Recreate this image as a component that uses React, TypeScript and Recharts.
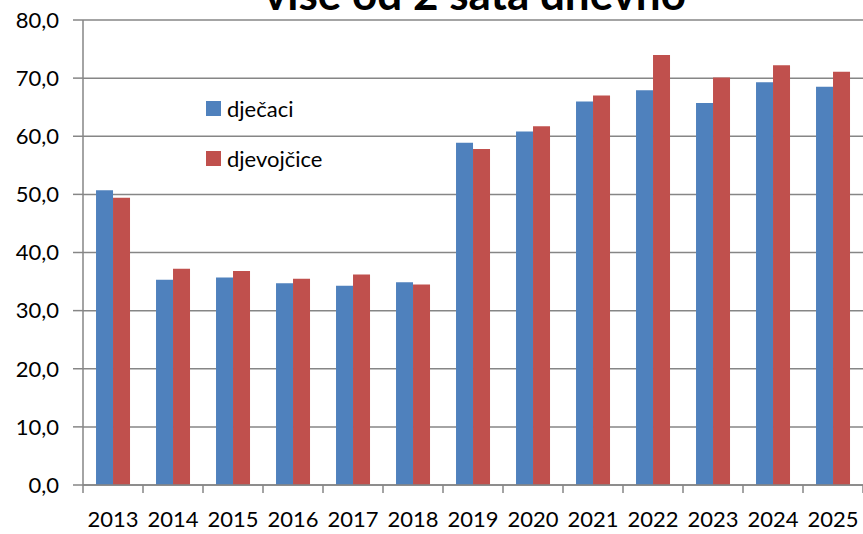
import { BarChart, Bar, XAxis, YAxis, CartesianGrid, Legend } from 'recharts';

const years = ['2013', '2014', '2015', '2016', '2017', '2018', '2019', '2020', '2021', '2022', '2023', '2024', '2025'];
const boys = [50.7, 35.3, 35.7, 34.7, 34.3, 34.9, 58.9, 60.8, 66.0, 67.9, 65.7, 69.3, 68.5];
const girls = [49.4, 37.2, 36.8, 35.5, 36.2, 34.5, 57.8, 61.7, 67.0, 74.0, 70.1, 72.2, 71.1];
const yTicks = [0, 10, 20, 30, 40, 50, 60, 70, 80];
const seriesOrder = ['boys', 'girls'];

const FONT = 'Lato, "Open Sans", sans-serif';
const GRID = '#868686';

const data = years.map((year, i) => ({ year, boys: boys[i], girls: girls[i] }));

// x axis: labels at centers, tick marks at category boundaries
function YearTick(props: any) {
  const { x, y, payload, index, visibleTicksCount } = props;
  const half = payload.offset || 30;
  const axisY = y - 2;
  const isLast = index === (visibleTicksCount ?? years.length) - 1;
  return (
    <g>
      <line x1={x - half} y1={axisY} x2={x - half} y2={axisY + 8} stroke={GRID} strokeWidth={1.5} />
      {isLast && <line x1={x + half} y1={axisY} x2={x + half} y2={axisY + 8} stroke={GRID} strokeWidth={1.5} />}
      <text x={x} y={axisY + 42} textAnchor="middle" fontSize={22} fontFamily={FONT} fill="#000">
        {payload.value}
      </text>
    </g>
  );
}

function LegendBox({ payload }: any) {
  const items = [...(payload || [])].sort(
    (a: any, b: any) => seriesOrder.indexOf(a.dataKey) - seriesOrder.indexOf(b.dataKey)
  );
  return (
    <div style={{ fontFamily: FONT, fontSize: 22, color: '#000' }}>
      {items.map((p: any) => (
        <div key={p.value} style={{ display: 'flex', alignItems: 'center', height: 50 }}>
          <span style={{ display: 'inline-block', width: 15, height: 15, background: p.color, marginRight: 6 }} />
          <span>{p.value}</span>
        </div>
      ))}
    </div>
  );
}

export default function App() {
  return (
    <div style={{ position: 'relative', width: 863, height: 534, overflow: 'hidden', background: '#fff' }}>
      <style>{'body{margin:0}'}</style>
      <BarChart
        width={863}
        height={534}
        data={data}
        margin={{ top: 20, right: 0, bottom: 48, left: 0 }}
        barCategoryGap="21.7%"
        barGap={0}
      >
        <CartesianGrid vertical={false} stroke={GRID} strokeWidth={1.5} />
        <XAxis
          dataKey="year"
          height={1}
          stroke={GRID}
          strokeWidth={1.5}
          tickLine={false}
          tickSize={0}
          tickMargin={2}
          interval={0}
          tick={<YearTick />}
        />
        <YAxis
          domain={[0, 80]}
          ticks={yTicks}
          width={83}
          stroke={GRID}
          strokeWidth={1.5}
          tickSize={10}
          tickMargin={14}
          tickFormatter={(v: number) => v.toFixed(1).replace('.', ',')}
          tick={{ fill: '#000', fontSize: 22, fontFamily: FONT }}
        />
        <Legend
          layout="vertical"
          align="center"
          verticalAlign="middle"
          content={<LegendBox />}
          wrapperStyle={{ left: 206, top: 83, width: 200 }}
        />
        <Bar dataKey="boys" name="dječaci" fill="#4F81BD" isAnimationActive={false} />
        <Bar dataKey="girls" name="djevojčice" fill="#C0504D" isAnimationActive={false} />
      </BarChart>
      <div
        style={{
          position: 'absolute',
          left: 475,
          top: -29,
          transform: 'translateX(-50%)',
          whiteSpace: 'nowrap',
          fontFamily: FONT,
          fontWeight: 700,
          fontSize: 44,
          lineHeight: '44px',
          color: '#000',
        }}
      >
        više od 2 sata dnevno
      </div>
    </div>
  );
}
